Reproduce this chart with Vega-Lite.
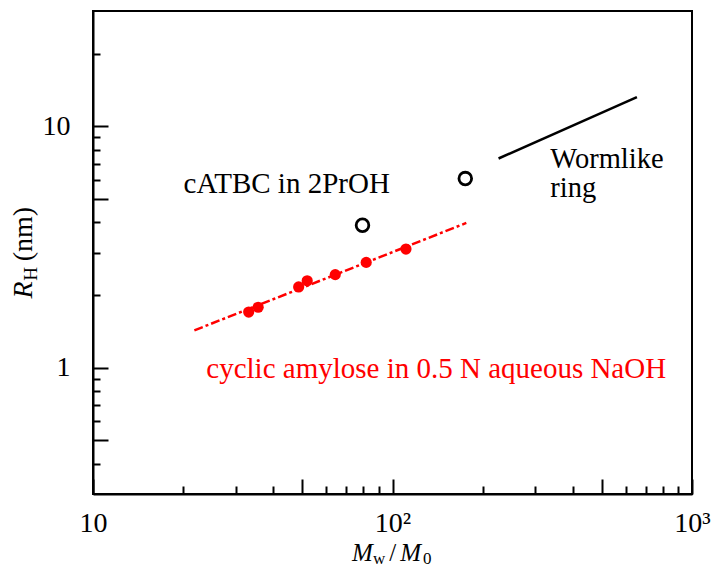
{
  "$schema": "https://vega.github.io/schema/vega-lite/v6.json",
  "width": 599,
  "height": 483,
  "autosize": {"type": "none"},
  "padding": {"left": 93, "top": 11, "right": 24, "bottom": 73},
  "background": "white",
  "config": {
    "view": {"stroke": "black", "strokeWidth": 2},
    "font": "Liberation Serif",
    "text": {"font": "Liberation Serif"}
  },
  "datasets": {
    "amylose": [
      {"x": 33.1, "y": 1.70},
      {"x": 35.6, "y": 1.78},
      {"x": 48.6, "y": 2.16},
      {"x": 51.9, "y": 2.29},
      {"x": 64.4, "y": 2.43},
      {"x": 81.7, "y": 2.73},
      {"x": 110.9, "y": 3.10}
    ],
    "amylose_fit": [
      {"x": 21.8, "y": 1.428},
      {"x": 176.4, "y": 3.976}
    ],
    "catbc": [
      {"x": 79.4, "y": 3.89},
      {"x": 175, "y": 6.07}
    ],
    "wormlike": [
      {"x": 226, "y": 7.35},
      {"x": 654.7, "y": 13.2}
    ],
    "notes_black": [
      {"x": 20.07, "y": 5.28, "t": "cATBC in 2PrOH"}
    ],
    "notes_worm": [
      {"x": 336.5, "y": 6.74, "t": "Wormlike\nring"}
    ],
    "notes_red": [
      {"x": 23.89, "y": 0.907, "t": "cyclic amylose in 0.5 N aqueous NaOH"}
    ],
    "xtitle_italic": [
      {"x": 73.2, "y": 0.159, "t": "M"},
      {"x": 106.2, "y": 0.159, "t": "M"}
    ],
    "xtitle_plain": [
      {"x": 97.6, "y": 0.159, "t": "/"}
    ],
    "xtitle_sub": [
      {"x": 86.1, "y": 0.1545, "t": "w"},
      {"x": 126.4, "y": 0.1545, "t": "0"}
    ],
    "ytitle_italic": [
      {"x": 6.26, "y": 1.937, "t": "R"}
    ],
    "ytitle_sub": [
      {"x": 6.49, "y": 2.29, "t": "H"}
    ],
    "ytitle_plain": [
      {"x": 6.26, "y": 2.76, "t": "(nm)"}
    ]
  },
  "encoding": {
    "x": {
      "field": "x",
      "type": "quantitative",
      "scale": {"type": "log", "domain": [10, 1000], "nice": false},
      "axis": {
        "title": null,
        "grid": false,
        "values": [10, 20, 30, 40, 50, 60, 70, 80, 90, 100, 200, 300, 400, 500, 600, 700, 800, 900, 1000],
        "labelExpr": "datum.value == 10 ? '10' : datum.value == 100 ? '10²' : datum.value == 1000 ? '10³' : ''",
        "tickSize": {"condition": {"test": "indexof([10, 50, 100, 500, 1000], datum.value) >= 0", "value": -15}, "value": -8},
        "tickColor": "black",
        "tickWidth": 2,
        "domainColor": "black",
        "domainWidth": 2,
        "labelFont": "Liberation Serif",
        "labelFontSize": 28,
        "labelColor": "black",
        "labelPadding": 30,
        "labelFlush": false,
        "labelOverlap": false,
        "labelBound": false
      }
    },
    "y": {
      "field": "y",
      "type": "quantitative",
      "scale": {"type": "log", "domain": [0.3, 30], "nice": false},
      "axis": {
        "title": null,
        "grid": false,
        "values": [0.4, 0.5, 0.6, 0.7, 0.8, 0.9, 1, 2, 3, 4, 5, 6, 7, 8, 9, 10, 20],
        "labelExpr": "datum.value == 1 ? '1' : datum.value == 10 ? '10' : ''",
        "tickSize": {"condition": {"test": "indexof([0.5, 1, 5, 10], datum.value) >= 0", "value": -15}, "value": -7},
        "tickColor": "black",
        "tickWidth": 2,
        "domainColor": "black",
        "domainWidth": 2,
        "labelFont": "Liberation Serif",
        "labelFontSize": 28,
        "labelColor": "black",
        "labelPadding": 38,
        "labelFlush": false,
        "labelOverlap": false,
        "labelBound": false
      }
    }
  },
  "layer": [
    {
      "data": {"name": "amylose_fit"},
      "mark": {"type": "line", "color": "#ff0000", "strokeWidth": 2.5, "strokeDash": [9, 3, 3, 3]}
    },
    {
      "data": {"name": "wormlike"},
      "mark": {"type": "line", "color": "black", "strokeWidth": 2.5}
    },
    {
      "data": {"name": "amylose"},
      "mark": {"type": "circle", "color": "#ff0000", "opacity": 1, "size": 125}
    },
    {
      "data": {"name": "catbc"},
      "mark": {"type": "point", "shape": "circle", "filled": false, "stroke": "black", "strokeWidth": 2.8, "opacity": 1, "size": 160}
    },
    {
      "data": {"name": "notes_black"},
      "mark": {"type": "text", "align": "left", "baseline": "alphabetic", "font": "Liberation Serif", "fontSize": 29, "color": "black"},
      "encoding": {"text": {"field": "t"}}
    },
    {
      "data": {"name": "notes_worm"},
      "mark": {"type": "text", "align": "left", "baseline": "alphabetic", "font": "Liberation Serif", "fontSize": 28.5, "lineBreak": "\n", "lineHeight": 29, "color": "black"},
      "encoding": {"text": {"field": "t"}}
    },
    {
      "data": {"name": "notes_red"},
      "mark": {"type": "text", "align": "left", "baseline": "alphabetic", "font": "Liberation Serif", "fontSize": 29, "color": "#ff0000"},
      "encoding": {"text": {"field": "t"}}
    },
    {
      "data": {"name": "xtitle_italic"},
      "mark": {"type": "text", "align": "left", "baseline": "alphabetic", "font": "Liberation Serif", "fontSize": 25, "fontStyle": "italic", "color": "black"},
      "encoding": {"text": {"field": "t"}}
    },
    {
      "data": {"name": "xtitle_plain"},
      "mark": {"type": "text", "align": "left", "baseline": "alphabetic", "font": "Liberation Serif", "fontSize": 25, "color": "black"},
      "encoding": {"text": {"field": "t"}}
    },
    {
      "data": {"name": "xtitle_sub"},
      "mark": {"type": "text", "align": "left", "baseline": "alphabetic", "font": "Liberation Serif", "fontSize": 17, "color": "black"},
      "encoding": {"text": {"field": "t"}}
    },
    {
      "data": {"name": "ytitle_italic"},
      "mark": {"type": "text", "align": "left", "baseline": "alphabetic", "angle": 270, "font": "Liberation Serif", "fontSize": 28, "fontStyle": "italic", "color": "black"},
      "encoding": {"text": {"field": "t"}}
    },
    {
      "data": {"name": "ytitle_sub"},
      "mark": {"type": "text", "align": "left", "baseline": "alphabetic", "angle": 270, "font": "Liberation Serif", "fontSize": 19, "color": "black"},
      "encoding": {"text": {"field": "t"}}
    },
    {
      "data": {"name": "ytitle_plain"},
      "mark": {"type": "text", "align": "left", "baseline": "alphabetic", "angle": 270, "font": "Liberation Serif", "fontSize": 28, "color": "black"},
      "encoding": {"text": {"field": "t"}}
    }
  ]
}
